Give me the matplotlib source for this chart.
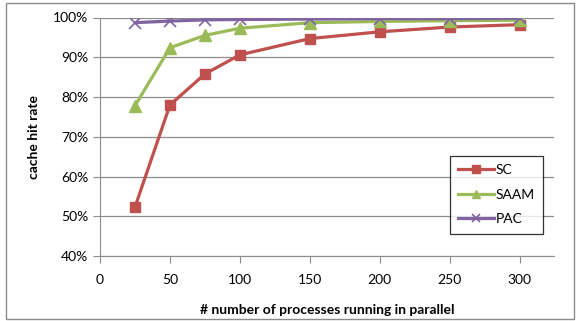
import matplotlib
matplotlib.use("Agg")
import matplotlib.pyplot as plt
from matplotlib.patches import Rectangle
from matplotlib.ticker import PercentFormatter

procs = [25, 50, 75, 100, 150, 200, 250, 300]
sc = [52.3, 78.0, 85.8, 90.6, 94.7, 96.4, 97.6, 98.2]
saam = [77.8, 92.4, 95.5, 97.3, 98.7, 99.0, 99.2, 99.3]
pac = [98.7, 99.1, 99.4, 99.5, 99.6, 99.7, 99.7, 99.8]
x_ticks = [0, 50, 100, 150, 200, 250, 300]
y_ticks = [40, 50, 60, 70, 80, 90, 100]

plt.rcParams['font.family'] = ['Lato', 'DejaVu Sans']

W, H = 579, 321
fig = plt.figure(figsize=(W / 100, H / 100), dpi=100)
ax = fig.add_axes([100 / W, 1 - 256 / H, 454 / W, (256 - 17.5) / H])

ax.plot(procs, sc, color='#C0504D', lw=2.3, marker='s', ms=7.5, label='SC', zorder=3)
ax.plot(procs, saam, color='#9BBB59', lw=2.3, marker='^', ms=8, label='SAAM', zorder=4)
ax.plot(procs, pac, color='#8064A2', lw=2.3, marker='x', ms=8, mew=1.2, label='PAC', zorder=5)

ax.set_xlim(0, 324.5)
ax.set_ylim(40, 100)
ax.set_xticks(x_ticks)
ax.set_yticks(y_ticks)
ax.yaxis.set_major_formatter(PercentFormatter(decimals=0))
ax.grid(axis='y', color='#8c8c8c', lw=0.9)
ax.set_axisbelow(True)
for s in ['top', 'right']:
    ax.spines[s].set_visible(False)
for s in ['left', 'bottom']:
    ax.spines[s].set_color('#8c8c8c')
ax.tick_params(axis='both', colors='#8c8c8c', labelcolor='black', labelsize=10, length=5)
ax.tick_params(axis='x', pad=8)

ax.set_ylabel('cache hit rate', fontweight='bold', fontsize=10, labelpad=9)
ax.set_xlabel('# number of processes running in parallel', fontweight='bold', fontsize=10, labelpad=13)

leg = ax.legend(loc='upper left', bbox_to_anchor=((443 - 100) / 454, (256 - 149) / (256 - 17.5)),
                frameon=True, fancybox=False, edgecolor='black', fontsize=10,
                handlelength=2.6, borderpad=0.6, labelspacing=0.9, handletextpad=0.1,
                markerscale=0.7)
leg.get_frame().set_linewidth(0.9)

fig.patches.append(Rectangle((6 / W, 2 / H), 568 / W, 316 / H, transform=fig.transFigure,
                             fill=False, edgecolor='#8c8c8c', lw=1.0))

fig.savefig('out.png', dpi=100)
